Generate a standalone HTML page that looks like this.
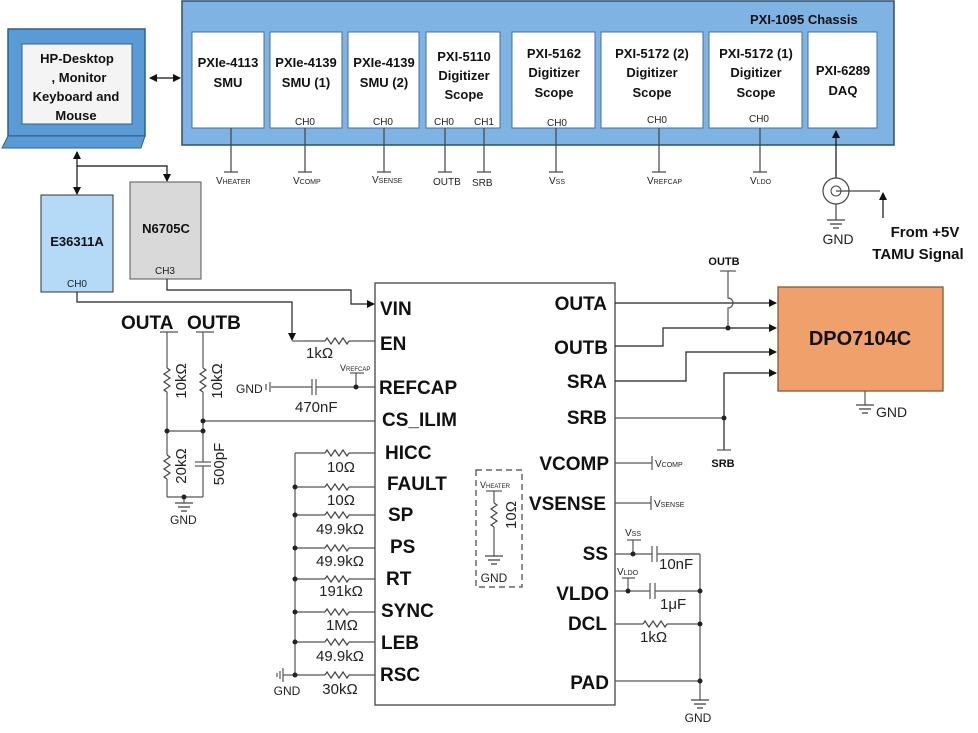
<!DOCTYPE html>
<html><head><meta charset="utf-8"><style>
html,body{margin:0;padding:0;background:#fff}
svg{display:block}
.b{font-family:"Liberation Sans",sans-serif;font-weight:bold;fill:#111}
.n{font-family:"Liberation Sans",sans-serif;fill:#222}
</style></head><body>
<svg width="978" height="733" viewBox="0 0 978 733" xmlns="http://www.w3.org/2000/svg">
<defs>
<path id="rz" d="M-12 0 l2 -3 l4 6 l4 -6 l4 6 l4 -6 l4 6 l2 -3" fill="none" stroke="#444" stroke-width="1.2"/>
<g id="gnd" stroke="#444" stroke-width="1.3"><line x1="-9" y1="0" x2="9" y2="0"/><line x1="-6" y1="4" x2="6" y2="4"/><line x1="-3" y1="8" x2="3" y2="8"/></g>
<marker id="ar" markerWidth="8" markerHeight="8" refX="7" refY="4" orient="auto-start-reverse" markerUnits="userSpaceOnUse"><path d="M0 0 L8 4 L0 8z" fill="#111"/></marker>
</defs>

<!-- Laptop -->
<rect x="8" y="29" width="137" height="107" fill="#5b9bd5" stroke="#2e5f8f" stroke-width="1.5"/>
<rect x="22" y="44" width="110" height="80" fill="#f4f4f4" stroke="#2e5f8f"/>
<polygon points="8,136 145,136 141,148 2,148" fill="#5b9bd5" stroke="#2e5f8f"/>
<g class="b" font-size="13" text-anchor="middle">
<text x="77" y="63">HP-Desktop</text><text x="79" y="82">, Monitor</text><text x="76" y="101">Keyboard and</text><text x="76" y="120">Mouse</text></g>
<line x1="150" y1="78" x2="180" y2="78" stroke="#111" stroke-width="1.3" marker-end="url(#ar)" marker-start="url(#ar)"/>

<!-- Chassis -->
<rect x="182" y="1" width="712" height="144" fill="#7fb3e3" stroke="#2f4f6f" stroke-width="1.5"/>
<text class="b" x="750" y="24" font-size="13">PXI-1095 Chassis</text>
<g fill="#fff" stroke="#4a6f95">
<rect x="192" y="32" width="72" height="96"/><rect x="270" y="32" width="72" height="96"/>
<rect x="348" y="32" width="71" height="96"/><rect x="426" y="32" width="74" height="96"/>
<rect x="512" y="32" width="83" height="96"/><rect x="601" y="32" width="102" height="96"/>
<rect x="709" y="32" width="93" height="96"/><rect x="808" y="32" width="69" height="96"/></g>
<g class="b" font-size="13" text-anchor="middle">
<text x="228" y="67">PXIe-4113</text><text x="228" y="87">SMU</text>
<text x="306" y="67">PXIe-4139</text><text x="306" y="87">SMU (1)</text>
<text x="384" y="67">PXIe-4139</text><text x="384" y="87">SMU (2)</text>
<text x="464" y="61">PXI-5110</text><text x="464" y="80">Digitizer</text><text x="464" y="99">Scope</text>
<text x="554" y="58">PXI-5162</text><text x="554" y="77">Digitizer</text><text x="554" y="97">Scope</text>
<text x="652" y="58">PXI-5172 (2)</text><text x="652" y="77">Digitizer</text><text x="652" y="97">Scope</text>
<text x="756" y="58">PXI-5172 (1)</text><text x="756" y="77">Digitizer</text><text x="756" y="97">Scope</text>
<text x="843" y="75">PXI-6289</text><text x="843" y="95">DAQ</text></g>
<g class="n" font-size="10" text-anchor="middle">
<text x="305" y="125">CH0</text><text x="383" y="125">CH0</text><text x="444" y="125">CH0</text><text x="484" y="125">CH1</text>
<text x="557" y="126">CH0</text><text x="657" y="123">CH0</text><text x="759" y="122">CH0</text></g>
<g stroke="#444" stroke-width="1.2">
<line x1="231" y1="128" x2="231" y2="172"/><line x1="224" y1="172" x2="238" y2="172"/>
<line x1="305" y1="128" x2="305" y2="172"/><line x1="298" y1="172" x2="312" y2="172"/>
<line x1="384" y1="128" x2="384" y2="172"/><line x1="377" y1="172" x2="391" y2="172"/>
<line x1="445" y1="128" x2="445" y2="172"/><line x1="438" y1="172" x2="452" y2="172"/>
<line x1="484" y1="128" x2="484" y2="172"/><line x1="477" y1="172" x2="491" y2="172"/>
<line x1="556" y1="128" x2="556" y2="172"/><line x1="549" y1="172" x2="563" y2="172"/>
<line x1="659" y1="128" x2="659" y2="172"/><line x1="652" y1="172" x2="666" y2="172"/>
<line x1="760" y1="128" x2="760" y2="172"/><line x1="753" y1="172" x2="767" y2="172"/></g>
<g class="n" font-size="10">
<text x="216" y="184">V<tspan font-size="7">HEATER</tspan></text>
<text x="293" y="184">V<tspan font-size="7">COMP</tspan></text>
<text x="372" y="183">V<tspan font-size="7">SENSE</tspan></text>
<text x="433" y="185">OUTB</text><text x="472" y="186">SRB</text>
<text x="549" y="184">V<tspan font-size="7">SS</tspan></text>
<text x="647" y="184">V<tspan font-size="7">REFCAP</tspan></text>
<text x="750" y="184">V<tspan font-size="7">LDO</tspan></text></g>

<!-- DAQ input -->
<line x1="836" y1="178" x2="836" y2="131" stroke="#111" stroke-width="1.2" marker-end="url(#ar)"/>
<circle cx="836" cy="191" r="13" fill="#fff" stroke="#444" stroke-width="1.2"/>
<circle cx="836" cy="191" r="5" fill="none" stroke="#444"/>
<line x1="836" y1="191" x2="880" y2="191" stroke="#444" stroke-width="1.2"/>
<line x1="883" y1="218" x2="883" y2="193" stroke="#111" stroke-width="1.2" marker-end="url(#ar)"/>
<line x1="836" y1="204" x2="836" y2="220" stroke="#444" stroke-width="1.2"/>
<use href="#gnd" x="836" y="220"/>
<text class="n" x="838" y="244" font-size="14" text-anchor="middle">GND</text>
<text class="b" x="925" y="237" font-size="15" text-anchor="middle">From +5V</text>
<text class="b" x="918" y="259" font-size="15" text-anchor="middle">TAMU Signal</text>

<!-- power supplies -->
<line x1="77" y1="152" x2="77" y2="194" stroke="#111" stroke-width="1.2" marker-end="url(#ar)" marker-start="url(#ar)"/>
<polyline points="77,166 167,166 167,181" fill="none" stroke="#111" stroke-width="1.2" marker-end="url(#ar)"/>
<rect x="41" y="195" width="72" height="97" fill="#b4daf7" stroke="#333"/>
<text class="b" x="77" y="246" font-size="13" text-anchor="middle">E36311A</text>
<text class="n" x="77" y="287" font-size="10" text-anchor="middle">CH0</text>
<rect x="130" y="182" width="71" height="97" fill="#d9d9d9" stroke="#555"/>
<text class="b" x="166" y="233" font-size="13" text-anchor="middle">N6705C</text>
<text class="n" x="165" y="274" font-size="10" text-anchor="middle">CH3</text>
<polyline points="167,279 167,290 351,290 351,304 374,304" fill="none" stroke="#222" stroke-width="1.2" marker-end="url(#ar)"/>
<polyline points="77,292 77,302 292,302 292,340" fill="none" stroke="#222" stroke-width="1.2" marker-end="url(#ar)"/>

<!-- IC -->
<rect x="375" y="283" width="240" height="422" fill="#fff" stroke="#444" stroke-width="1.3"/>
<g class="b" font-size="19">
<text x="380" y="315">VIN</text><text x="380" y="350">EN</text><text x="379" y="394">REFCAP</text>
<text x="382" y="426">CS_ILIM</text><text x="385" y="459">HICC</text><text x="387" y="490">FAULT</text>
<text x="388" y="521">SP</text><text x="390" y="553">PS</text><text x="386" y="585">RT</text>
<text x="381" y="617">SYNC</text><text x="381" y="649">LEB</text><text x="380" y="681">RSC</text></g>
<g class="b" font-size="19" text-anchor="end">
<text x="607" y="310">OUTA</text><text x="608" y="354">OUTB</text><text x="607" y="388">SRA</text>
<text x="607" y="424">SRB</text><text x="609" y="470">VCOMP</text><text x="606" y="510">VSENSE</text>
<text x="608" y="560">SS</text><text x="609" y="600">VLDO</text><text x="607" y="630">DCL</text><text x="609" y="689">PAD</text></g>

<!-- left circuitry -->
<g stroke="#555" stroke-width="1.2" fill="none">
<line x1="304" y1="341" x2="325" y2="341"/><line x1="349" y1="341" x2="375" y2="341"/>
<line x1="292" y1="341" x2="304" y2="341"/>
<line x1="271" y1="387" x2="312" y2="387"/><line x1="316" y1="387" x2="375" y2="387"/>
<line x1="312" y1="379" x2="312" y2="395"/><line x1="316" y1="379" x2="316" y2="395"/>
<line x1="270" y1="382" x2="270" y2="392"/><line x1="266" y1="384" x2="266" y2="390"/>
<line x1="356" y1="387" x2="356" y2="373"/><line x1="350" y1="373" x2="364" y2="373"/>
<line x1="203" y1="421" x2="375" y2="421"/>
<line x1="167" y1="332" x2="167" y2="368"/><line x1="167" y1="392" x2="167" y2="455"/><line x1="167" y1="479" x2="167" y2="497"/>
<line x1="203" y1="332" x2="203" y2="368"/><line x1="203" y1="392" x2="203" y2="462"/><line x1="203" y1="466" x2="203" y2="497"/>
<line x1="195" y1="462" x2="211" y2="462"/><line x1="195" y1="466" x2="211" y2="466"/>
<line x1="167" y1="431" x2="203" y2="431"/><line x1="167" y1="497" x2="203" y2="497"/>
<line x1="184" y1="497" x2="184" y2="503"/>
<line x1="160" y1="332" x2="178" y2="332"/><line x1="196" y1="332" x2="214" y2="332"/>
<line x1="295" y1="453" x2="295" y2="675"/>
<line x1="283" y1="675" x2="295" y2="675"/>
<line x1="283" y1="668" x2="283" y2="682"/><line x1="280" y1="671" x2="280" y2="679"/><line x1="277" y1="673" x2="277" y2="677"/>
</g>
<use href="#rz" x="337" y="341"/>
<use href="#rz" transform="translate(167,380) rotate(90)"/>
<use href="#rz" transform="translate(203,380) rotate(90)"/>
<use href="#rz" transform="translate(167,467) rotate(90)"/>
<use href="#gnd" x="184" y="503"/>
<g fill="#222"><circle cx="356" cy="387" r="2.5"/><circle cx="203" cy="421" r="2.5"/><circle cx="167" cy="431" r="2.5"/><circle cx="203" cy="431" r="2.5"/><circle cx="184" cy="497" r="2.5"/></g>
<g class="b" font-size="19"><text x="121" y="329">OUTA</text><text x="187" y="329">OUTB</text></g>
<g class="n" font-size="15">
<text x="306" y="358">1kΩ</text><text x="295" y="412">470nF</text>
<text x="236" y="393" font-size="12">GND</text>
<text x="340" y="371" font-size="9">V<tspan font-size="6">REFCAP</tspan></text>
<text x="170" y="524" font-size="12">GND</text>
<text transform="translate(186,381) rotate(-90)" text-anchor="middle">10kΩ</text>
<text transform="translate(222,381) rotate(-90)" text-anchor="middle">10kΩ</text>
<text transform="translate(186,466) rotate(-90)" text-anchor="middle">20kΩ</text>
<text transform="translate(224,464) rotate(-90)" text-anchor="middle">500pF</text>
</g>
<!-- resistor ladder -->
<g stroke="#555" stroke-width="1.2">
<line x1="295" y1="453" x2="325" y2="453"/><line x1="349" y1="453" x2="375" y2="453"/>
<line x1="295" y1="487" x2="325" y2="487"/><line x1="349" y1="487" x2="375" y2="487"/>
<line x1="295" y1="515" x2="325" y2="515"/><line x1="349" y1="515" x2="375" y2="515"/>
<line x1="295" y1="548" x2="325" y2="548"/><line x1="349" y1="548" x2="375" y2="548"/>
<line x1="295" y1="579" x2="325" y2="579"/><line x1="349" y1="579" x2="375" y2="579"/>
<line x1="295" y1="612" x2="325" y2="612"/><line x1="349" y1="612" x2="375" y2="612"/>
<line x1="295" y1="642" x2="325" y2="642"/><line x1="349" y1="642" x2="375" y2="642"/>
<line x1="295" y1="675" x2="325" y2="675"/><line x1="349" y1="675" x2="375" y2="675"/></g>
<use href="#rz" x="337" y="453"/><use href="#rz" x="337" y="487"/><use href="#rz" x="337" y="515"/>
<use href="#rz" x="337" y="548"/><use href="#rz" x="337" y="579"/><use href="#rz" x="337" y="612"/>
<use href="#rz" x="337" y="642"/><use href="#rz" x="337" y="675"/>
<g fill="#222"><circle cx="295" cy="487" r="2.5"/><circle cx="295" cy="515" r="2.5"/><circle cx="295" cy="548" r="2.5"/><circle cx="295" cy="579" r="2.5"/><circle cx="295" cy="612" r="2.5"/><circle cx="295" cy="642" r="2.5"/><circle cx="295" cy="675" r="2.5"/></g>
<g class="n" font-size="15" text-anchor="middle">
<text x="341" y="472">10Ω</text><text x="341" y="505">10Ω</text><text x="340" y="534">49.9kΩ</text>
<text x="340" y="566">49.9kΩ</text><text x="341" y="596">191kΩ</text><text x="342" y="630">1MΩ</text>
<text x="340" y="661">49.9kΩ</text><text x="340" y="694">30kΩ</text>
<text x="287" y="695" font-size="12">GND</text></g>

<!-- heater box -->
<rect x="476" y="470" width="46" height="117" fill="none" stroke="#444" stroke-width="1.2" stroke-dasharray="6,4"/>
<text class="n" x="480" y="488" font-size="9">V<tspan font-size="6">HEATER</tspan></text>
<g stroke="#555" stroke-width="1.2"><line x1="486" y1="491" x2="502" y2="491"/><line x1="494" y1="491" x2="494" y2="503"/><line x1="494" y1="527" x2="494" y2="556"/></g>
<use href="#rz" transform="translate(494,515) rotate(90)"/>
<use href="#gnd" x="494" y="556"/>
<text class="n" transform="translate(516,515) rotate(-90)" font-size="15" text-anchor="middle">10Ω</text>
<text class="n" x="494" y="582" font-size="12" text-anchor="middle">GND</text>

<!-- right circuitry -->
<g stroke="#555" stroke-width="1.2" fill="none">
<line x1="615" y1="303" x2="776" y2="303" stroke="#222" marker-end="url(#ar)"/>
<polyline points="615,346 663,346 663,328 776,328" stroke="#222" marker-end="url(#ar)"/>
<polyline points="615,381 686,381 686,352 776,352" stroke="#222" marker-end="url(#ar)"/>
<polyline points="724,450 724,373 776,373" stroke="#222" marker-end="url(#ar)"/>
<line x1="615" y1="418" x2="724" y2="418"/>
<line x1="717" y1="450" x2="731" y2="450"/>
<path d="M728 328 L728 308 A5 5 0 0 0 728 298 L728 271"/>
<line x1="720" y1="271" x2="736" y2="271"/>
<line x1="615" y1="463" x2="652" y2="463"/><line x1="652" y1="456" x2="652" y2="470"/>
<line x1="615" y1="503" x2="651" y2="503"/><line x1="651" y1="496" x2="651" y2="510"/>
<line x1="615" y1="554" x2="652" y2="554"/><line x1="657" y1="554" x2="700" y2="554"/>
<line x1="652" y1="546" x2="652" y2="562"/><line x1="657" y1="546" x2="657" y2="562"/>
<line x1="633" y1="554" x2="633" y2="540"/><line x1="627" y1="540" x2="641" y2="540"/>
<line x1="615" y1="591" x2="650" y2="591"/><line x1="655" y1="591" x2="700" y2="591"/>
<line x1="650" y1="583" x2="650" y2="599"/><line x1="655" y1="583" x2="655" y2="599"/>
<line x1="628" y1="591" x2="628" y2="578"/><line x1="622" y1="578" x2="635" y2="578"/>
<line x1="615" y1="624" x2="643" y2="624"/><line x1="667" y1="624" x2="700" y2="624"/>
<line x1="615" y1="681" x2="700" y2="681"/>
<line x1="700" y1="554" x2="700" y2="700"/>
<line x1="865" y1="391" x2="865" y2="405"/>
</g>
<use href="#rz" x="655" y="624"/>
<use href="#gnd" x="700" y="700"/>
<use href="#gnd" x="865" y="405"/>
<g fill="#222"><circle cx="728" cy="328" r="2.5"/><circle cx="724" cy="418" r="2.5"/><circle cx="633" cy="554" r="2.5"/><circle cx="628" cy="591" r="2.5"/><circle cx="700" cy="591" r="2.5"/><circle cx="700" cy="624" r="2.5"/><circle cx="700" cy="681" r="2.5"/></g>
<rect x="778" y="287" width="165" height="104" fill="#f0a06a" stroke="#7a5a40" stroke-width="1.3"/>
<text class="b" x="860" y="345" font-size="20" text-anchor="middle">DPO7104C</text>
<text class="n" x="876" y="417" font-size="14">GND</text>
<text class="b" x="724" y="265" font-size="11" text-anchor="middle">OUTB</text>
<text class="b" x="723" y="467" font-size="11" text-anchor="middle">SRB</text>
<g class="n" font-size="10">
<text x="655" y="467">V<tspan font-size="7">COMP</tspan></text>
<text x="654" y="507">V<tspan font-size="7">SENSE</tspan></text>
<text x="625" y="536">V<tspan font-size="7">SS</tspan></text>
<text x="617" y="575">V<tspan font-size="7">LDO</tspan></text></g>
<g class="n" font-size="15">
<text x="659" y="569">10nF</text><text x="660" y="609">1μF</text><text x="640" y="642">1kΩ</text>
<text x="698" y="722" font-size="12" text-anchor="middle">GND</text></g>
</svg>
</body></html>
